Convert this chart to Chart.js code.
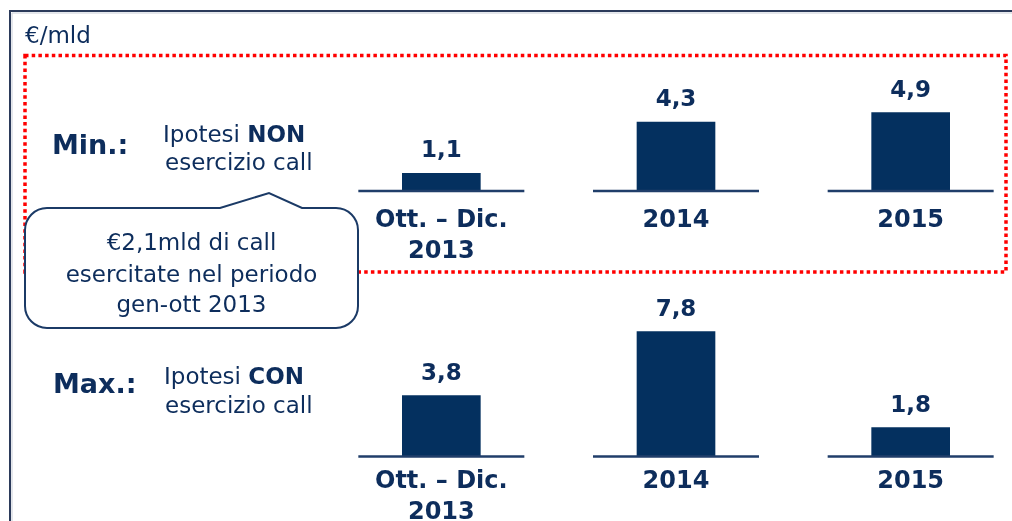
<!DOCTYPE html>
<html>
<head>
<meta charset="utf-8">
<script src="https://cdn.jsdelivr.net/npm/chart.js@4"></script>
<style>
  html, body { margin: 0; padding: 0; background: #ffffff; }
  body { width: 1012px; height: 521px; position: relative; overflow: hidden; font-family: 'DejaVu Sans', Verdana, sans-serif; }
  #chartBox { position: absolute; left: 324px; top: 0; width: 704px; height: 521px; }
  #overlay { position: absolute; left: 0; top: 0; width: 1012px; height: 521px; pointer-events: none; }
  #overlay text { font-family: 'DejaVu Sans', Verdana, sans-serif; fill: #0d2d5c; }
</style>
</head>
<body>
<div id="chartBox"><canvas id="c" width="704" height="521"></canvas></div>
<svg id="overlay" width="1012" height="521" xmlns="http://www.w3.org/2000/svg">
  <!-- outer frame -->
  <path d="M12,523 V13 H1014" fill="none" stroke="#c9ced8" stroke-width="1"/>
  <path d="M10,523 V11 H1014" fill="none" stroke="#2b3a5a" stroke-width="2"/>
  <text x="25" y="43" font-size="23">€/mld</text>
  <!-- red dotted box -->
  <rect x="25" y="55.5" width="981" height="216.5" fill="none" stroke="#ff0000" stroke-width="3.5" stroke-dasharray="3.5 3.2"/>
  <!-- row titles -->
  <text x="52" y="154" font-size="27" font-weight="bold">Min.:</text>
  <text x="163" y="142" font-size="23">Ipotesi <tspan font-weight="bold">NON</tspan></text>
  <text x="165" y="170" font-size="23">esercizio call</text>
  <text x="53" y="393" font-size="27" font-weight="bold">Max.:</text>
  <text x="164" y="384" font-size="23">Ipotesi <tspan font-weight="bold">CON</tspan></text>
  <text x="165" y="413" font-size="23">esercizio call</text>
  <!-- callout -->
  <path d="M47,208 H220 L269,193 L302,208 H336 A22,22 0 0 1 358,230 V306 A22,22 0 0 1 336,328 H47 A22,22 0 0 1 25,306 V230 A22,22 0 0 1 47,208 Z"
        fill="#ffffff" stroke="#1b3a66" stroke-width="2"/>
  <text x="191.5" y="250" font-size="23" text-anchor="middle">€2,1mld di call</text>
  <text x="191.5" y="282" font-size="23" text-anchor="middle">esercitate nel periodo</text>
  <text x="191.5" y="312" font-size="23" text-anchor="middle">gen-ott 2013</text>
</svg>
<script>
// ---- data ----
const categories = [['Ott. – Dic.', '2013'], ['2014'], ['2015']];
const minValues = [1.1, 4.3, 4.9];   // Ipotesi NON esercizio call
const maxValues = [3.8, 7.8, 1.8];   // Ipotesi CON esercizio call

// ---- layout constants ----
const CANVAS_H = 521;
const PX_PER_UNIT = 16;
const ROW_ZERO = { yMin: 191, yMax: 456.5 };   // pixel row of each zero line
function axisRange(zeroPx) {
  const span = CANVAS_H / PX_PER_UNIT;
  const min = -(CANVAS_H - zeroPx) / PX_PER_UNIT;
  return { min: min, max: min + span };
}
const rMin = axisRange(ROW_ZERO.yMin);
const rMax = axisRange(ROW_ZERO.yMax);

const BAR_COLOR = '#04305f';
const TEXT_COLOR = '#0d2d5c';
const LINE_COLOR = '#203e6a';

const labelPlugin = {
  id: 'rowsDecor',
  afterDatasetsDraw(chart) {
    const ctx = chart.ctx;
    const xs = chart.scales.x;
    const rows = [
      { axis: 'yMin', values: minValues, catOffset: 36 },
      { axis: 'yMax', values: maxValues, catOffset: 31 }
    ];
    ctx.save();
    rows.forEach(row => {
      const ys = chart.scales[row.axis];
      const y0 = ys.getPixelForValue(0);
      categories.forEach((cat, i) => {
        const cx = xs.getPixelForValue(i);
        // baseline segment
        ctx.beginPath();
        ctx.strokeStyle = LINE_COLOR;
        ctx.lineWidth = 2.3;
        ctx.moveTo(cx - 83, y0);
        ctx.lineTo(cx + 83, y0);
        ctx.stroke();
        // value label
        const v = row.values[i];
        const top = ys.getPixelForValue(v);
        ctx.fillStyle = TEXT_COLOR;
        ctx.textAlign = 'center';
        ctx.textBaseline = 'alphabetic';
        ctx.font = 'bold 23px "DejaVu Sans", Verdana, sans-serif';
        ctx.fillText(v.toFixed(1).replace('.', ','), cx, top - 16);
        // category label
        ctx.font = 'bold 24px "DejaVu Sans", Verdana, sans-serif';
        cat.forEach((line, k) => {
          ctx.fillText(line, cx, y0 + row.catOffset + k * 31);
        });
      });
    });
    ctx.restore();
  }
};

new Chart(document.getElementById('c'), {
  type: 'bar',
  data: {
    labels: categories,
    datasets: [
      { label: 'Min.', data: minValues, yAxisID: 'yMin', backgroundColor: BAR_COLOR, grouped: false, barThickness: 78 },
      { label: 'Max.', data: maxValues, yAxisID: 'yMax', backgroundColor: BAR_COLOR, grouped: false, barThickness: 78 }
    ]
  },
  options: {
    responsive: false,
    animation: false,
    devicePixelRatio: 1,
    layout: { padding: 0 },
    plugins: { legend: { display: false }, tooltip: { enabled: false } },
    scales: {
      x: { type: 'category', offset: true, display: false },
      yMin: { type: 'linear', min: rMin.min, max: rMin.max, display: false },
      yMax: { type: 'linear', min: rMax.min, max: rMax.max, display: false }
    }
  },
  plugins: [labelPlugin]
});
</script>
</body>
</html>
